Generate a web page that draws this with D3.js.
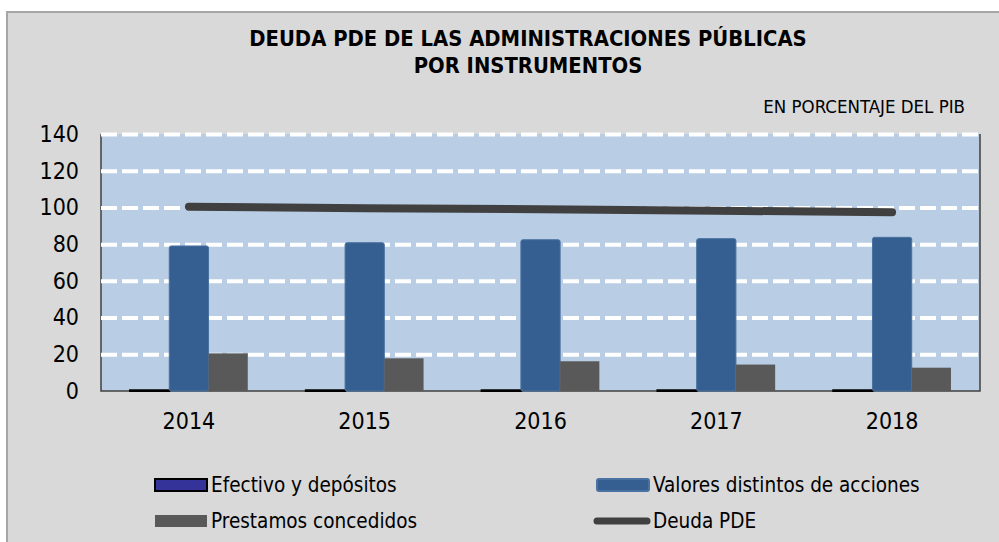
<html>
<head>
    <meta charset="utf-8">
    <script src="https://d3js.org/d3.v7.min.js"></script>
    <style>
        html, body {
            margin: 0px;
            padding: 0px;
            background-color: white;
        }
        text {
            font-family: "DejaVu Sans Condensed", "DejaVu Sans", sans-serif;
            fill: #000;
        }
    </style>
</head>
<body>
    <div id="chart"></div>
    <script>
        const years = ["2014", "2015", "2016", "2017", "2018"];
        const efectivo = [0.4, 0.4, 0.4, 0.4, 0.4];
        const valores = [79.0, 80.8, 82.4, 83.0, 83.7];
        const prestamos = [20.5, 17.8, 16.2, 14.4, 12.7];
        const deudaPDE = [100.4, 99.6, 99.0, 98.2, 97.4];
        const yTicks = [0, 20, 40, 60, 80, 100, 120, 140];
        const seriesNames = ["Efectivo y depósitos", "Valores distintos de acciones", "Prestamos concedidos", "Deuda PDE"];

        const W = 999, H = 542;
        const plot = {left: 101, right: 980, top: 134, bottom: 391};

        const svg = d3.select("#chart")
            .append("svg")
                .attr("width", W)
                .attr("height", H);

        // chart area background with its light border
        svg.append("rect")
            .attr("x", 7).attr("y", 12)
            .attr("width", W).attr("height", H)
            .attr("fill", "#d9d9d9")
            .attr("stroke", "#a6a6a6")
            .attr("stroke-width", 2);

        // title
        const title = svg.append("text")
            .attr("text-anchor", "middle")
            .attr("font-weight", "bold")
            .attr("font-size", 21.8);
        title.append("tspan").attr("x", 528).attr("y", 46).text("DEUDA PDE DE LAS ADMINISTRACIONES PÚBLICAS");
        title.append("tspan").attr("x", 528).attr("y", 73).text("POR INSTRUMENTOS");

        svg.append("text")
            .attr("text-anchor", "end")
            .attr("x", 965)
            .attr("y", 113)
            .attr("font-size", 18.5)
            .text("EN PORCENTAJE DEL PIB");

        const x = d3.scaleBand()
            .domain(years)
            .range([plot.left, plot.right]);

        const xInner = d3.scaleBand()
            .domain(["efectivo", "valores", "prestamos"])
            .range([0, x.bandwidth()])
            .paddingOuter(0.74)
            .paddingInner(0);

        const y = d3.scaleLinear()
            .domain([0, 140])
            .range([plot.bottom, plot.top]);

        // plot background
        svg.append("rect")
            .attr("x", plot.left).attr("y", plot.top)
            .attr("width", plot.right - plot.left)
            .attr("height", plot.bottom - plot.top)
            .attr("fill", "#b9cde5");

        // frame on left, bottom and right only
        svg.append("path")
            .attr("d", "M" + plot.left + "," + plot.top + "V" + plot.bottom + "H" + plot.right + "V" + plot.top)
            .attr("fill", "none")
            .attr("stroke", "#404040")
            .attr("stroke-width", 1.5);

        // dashed white grid
        svg.append("g")
            .attr("transform", "translate(" + plot.left + ",0)")
            .call(d3.axisLeft(y).tickValues(yTicks.filter(d => d > 0)).tickSize(-(plot.right - plot.left)).tickFormat(""))
            .call(g => g.select(".domain").remove())
            .call(g => g.selectAll(".tick line")
                .attr("stroke", "white")
                .attr("stroke-width", 4)
                .attr("stroke-dasharray", "16,5"));

        // y axis labels
        svg.append("g")
            .attr("transform", "translate(" + plot.left + ",0)")
            .call(d3.axisLeft(y).tickValues(yTicks).tickSize(0).tickPadding(22))
            .call(g => g.select(".domain").remove())
            .call(g => g.selectAll(".tick text")
                .attr("font-size", 23)
                .attr("font-family", null)
                .attr("fill", "#000"));

        // x axis labels
        svg.append("g")
            .attr("transform", "translate(0," + plot.bottom + ")")
            .call(d3.axisBottom(x).tickSize(0).tickPadding(22))
            .call(g => g.select(".domain").remove())
            .call(g => g.selectAll(".tick text")
                .attr("font-size", 23)
                .attr("font-family", null)
                .attr("fill", "#000"));

        // bars
        const groups = svg.append("g")
            .selectAll("g")
            .data(years)
            .enter()
            .append("g")
                .attr("transform", d => "translate(" + x(d) + ",0)");

        groups.append("rect")
            .attr("x", xInner("efectivo"))
            .attr("y", (d, i) => y(efectivo[i]))
            .attr("width", xInner.bandwidth())
            .attr("height", (d, i) => y(0) - y(efectivo[i]))
            .attr("fill", "#333399")
            .attr("stroke", "black")
            .attr("stroke-width", 2);

        groups.append("rect")
            .attr("x", xInner("valores"))
            .attr("y", (d, i) => y(valores[i]))
            .attr("width", xInner.bandwidth())
            .attr("height", (d, i) => y(0) - y(valores[i]))
            .attr("rx", 2)
            .attr("fill", "#355f91")
            .attr("stroke", "#4a72a0")
            .attr("stroke-width", 1);

        groups.append("rect")
            .attr("x", xInner("prestamos"))
            .attr("y", (d, i) => y(prestamos[i]))
            .attr("width", xInner.bandwidth())
            .attr("height", (d, i) => y(0) - y(prestamos[i]))
            .attr("fill", "#595959");

        // Deuda PDE line
        svg.append("path")
            .datum(deudaPDE)
            .attr("fill", "none")
            .attr("stroke", "#404040")
            .attr("stroke-width", 8)
            .attr("stroke-linecap", "round")
            .attr("stroke-linejoin", "round")
            .attr("d", d3.line()
                .x((d, i) => x(years[i]) + x.bandwidth() / 2)
                .y(d => y(d)));

        // legend
        const legendItems = [
            {name: seriesNames[0], type: "box", fill: "#333399", stroke: "black", lx: 155, ly: 485},
            {name: seriesNames[1], type: "box", fill: "#355f91", stroke: "#4a72a0", lx: 597, ly: 485},
            {name: seriesNames[2], type: "box", fill: "#595959", stroke: "none", lx: 155, ly: 521},
            {name: seriesNames[3], type: "line", fill: "#404040", stroke: "none", lx: 597, ly: 521}
        ];
        const legend = svg.append("g")
            .selectAll("g")
            .data(legendItems)
            .enter()
            .append("g")
                .attr("transform", d => "translate(" + d.lx + "," + d.ly + ")");

        legend.filter(d => d.type === "box")
            .append("rect")
                .attr("x", 0).attr("y", -6)
                .attr("width", 52).attr("height", 12)
                .attr("rx", d => d.name === seriesNames[1] ? 2 : 0)
                .attr("fill", d => d.fill)
                .attr("stroke", d => d.stroke)
                .attr("stroke-width", 2);

        legend.filter(d => d.type === "line")
            .append("line")
                .attr("x1", 0).attr("x2", 50)
                .attr("y1", 0).attr("y2", 0)
                .attr("stroke", d => d.fill)
                .attr("stroke-width", 7)
                .attr("stroke-linecap", "round");

        legend.append("text")
            .attr("x", 56)
            .attr("y", 0)
            .attr("dy", "0.35em")
            .attr("font-size", 20.5)
            .text(d => d.name);
    </script>
</body>
</html>
